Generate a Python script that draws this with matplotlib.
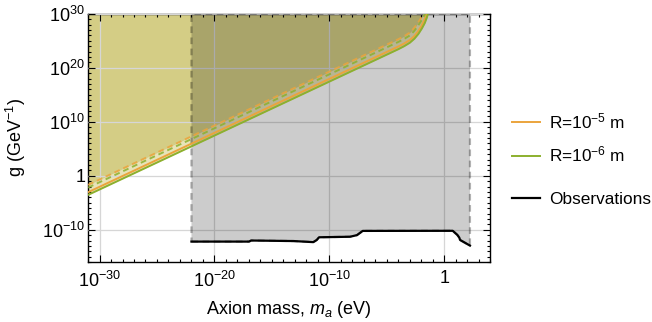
import numpy as np
import matplotlib.pyplot as plt
from matplotlib.ticker import FixedLocator, FixedFormatter

plt.rcParams['font.family'] = ['Liberation Sans', 'DejaVu Sans']
plt.rcParams['mathtext.fontset'] = 'custom'
plt.rcParams['mathtext.rm'] = 'Liberation Sans'
plt.rcParams['mathtext.it'] = 'Liberation Sans:italic'
plt.rcParams['mathtext.bf'] = 'Liberation Sans:bold'

# values, as log10(m_a / eV) and log10(g / GeV^-1)
r5_logm = [-31, -4.0, -3.5, -3.0, -2.6, -2.3, -2.0, -1.8, -1.6, -1.47]
r5_logg = [-3.05, 23.95, 24.5, 25.15, 25.9, 26.7, 27.7, 28.6, 29.6, 30.4]
r6_logm = [-31, -4.0, -3.5, -3.0, -2.6, -2.25, -1.95, -1.7, -1.52, -1.38]
r6_logg = [-3.55, 23.45, 24.0, 24.65, 25.4, 26.3, 27.3, 28.3, 29.3, 30.4]
r5d_logm = [-31, -4.0, -3.5, -3.05, -2.7, -2.4, -2.15, -1.95, -1.77, -1.62]
r5d_logg = [-1.7, 25.3, 25.85, 26.45, 27.2, 28.0, 28.8, 29.5, 30.1, 30.5]
r6d_logm = [-31, -4.0, -3.5, -3.0, -2.65, -2.35, -2.1, -1.87, -1.7, -1.55]
r6d_logg = [-2.2, 24.8, 25.35, 26.0, 26.75, 27.6, 28.4, 29.2, 29.9, 30.5]

obs_logm = [-22, -17.0, -16.8, -13.1, -11.4, -11.1, -10.9, -8.2, -7.6, -7.1, 0.73, 1.13, 1.3, 1.37, 2.23]
obs_logg = [-12.2, -12.2, -12.0, -12.1, -12.3, -11.9, -11.4, -11.3, -11.0, -10.22, -10.2, -10.96, -11.46, -11.9, -12.94]

xmajor = [-30, -20, -10, 0]
xlabels = ['$10^{-30}$', '$10^{-20}$', '$10^{-10}$', '1']
ymajor = [-10, 0, 10, 20, 30]
ylabels = ['$10^{-10}$', '1', '$10^{10}$', '$10^{20}$', '$10^{30}$']

orange = '#eba43c'
green = '#8cb02e'
khaki = '#d4cd85'
pale = '#e7e3b8'

def tolin(v):
    return 10.0 ** np.array(v)

fig = plt.figure(figsize=(6.52, 3.22), dpi=100)
ax = fig.add_axes([0.135, 0.186, 0.617, 0.771])
ax.set_xscale('log')
ax.set_yscale('log')

# excluded region above the curves
ax.fill_between(tolin(r6_logm), tolin(r6_logg), 1e32, color=pale, lw=0, zorder=1)
ax.fill_between(tolin(r5d_logm), tolin(r5d_logg), 1e32, color=khaki, lw=0, zorder=1.1)

# observational bound
gm = np.r_[obs_logm, obs_logm[-1], obs_logm[0]]
gg = np.r_[obs_logg, 30, 30]
ax.fill(tolin(gm), tolin(gg), facecolor=(0, 0, 0, 0.2), edgecolor=(0, 0, 0, 0.3),
        ls=(0, (3, 2)), lw=1.6, zorder=2.6)

l5, = ax.plot(tolin(r5_logm), tolin(r5_logg), color=orange, lw=1.4, zorder=3)
l6, = ax.plot(tolin(r6_logm), tolin(r6_logg), color=green, lw=1.4, zorder=3)
ax.plot(tolin(r5d_logm), tolin(r5d_logg), color=orange, lw=1.4, ls=(0, (3, 2)), alpha=0.85, zorder=3)
ax.plot(tolin(r6d_logm), tolin(r6d_logg), color=green, lw=1.4, ls=(0, (3, 2)), alpha=0.85, zorder=3)
lo, = ax.plot(tolin(obs_logm), tolin(obs_logg), color='black', lw=1.6, zorder=3.5)

ax.set_xlim(1e-31, 1e4)
ax.set_ylim(1e-16, 1e30)

ax.xaxis.set_major_locator(FixedLocator(tolin(xmajor)))
ax.xaxis.set_major_formatter(FixedFormatter(xlabels))
ax.xaxis.set_minor_locator(FixedLocator(tolin(np.arange(-31, 5))))
ax.yaxis.set_major_locator(FixedLocator(tolin(ymajor)))
ax.yaxis.set_major_formatter(FixedFormatter(ylabels))
ax.yaxis.set_minor_locator(FixedLocator(tolin(np.arange(-16, 31))))
ax.xaxis.set_minor_formatter(FixedFormatter([]))
ax.yaxis.set_minor_formatter(FixedFormatter([]))

ax.tick_params(which='both', direction='in', top=True, right=True, labelsize=13, width=0.8)
ax.tick_params(which='major', length=5)
ax.tick_params(axis='x', which='major', pad=6)
ax.tick_params(axis='y', which='major', pad=2)
ax.tick_params(which='minor', length=2.5)
ax.set_axisbelow(False)
ax.grid(True, which='major', color='#d6d6d6', lw=0.9)
for s in ax.spines.values():
    s.set_linewidth(1.0)

ax.set_xlabel('Axion mass, $m_a$ (eV)', fontsize=13, labelpad=6)
ax.set_ylabel('g (GeV$^{-1}$)', fontsize=13, labelpad=10)

fig.legend([l5, l6], ['R=$10^{-5}$ m', 'R=$10^{-6}$ m'], loc='center left',
           bbox_to_anchor=(0.786, 0.572), frameon=False, fontsize=12.4,
           handlelength=1.6, handletextpad=0.55, labelspacing=0.8, borderpad=0, borderaxespad=0)
fig.legend([lo], ['Observations'], loc='center left',
           bbox_to_anchor=(0.786, 0.379), frameon=False, fontsize=12.4,
           handlelength=1.6, handletextpad=0.55, borderpad=0, borderaxespad=0)

fig.savefig('out.png', dpi=100)
